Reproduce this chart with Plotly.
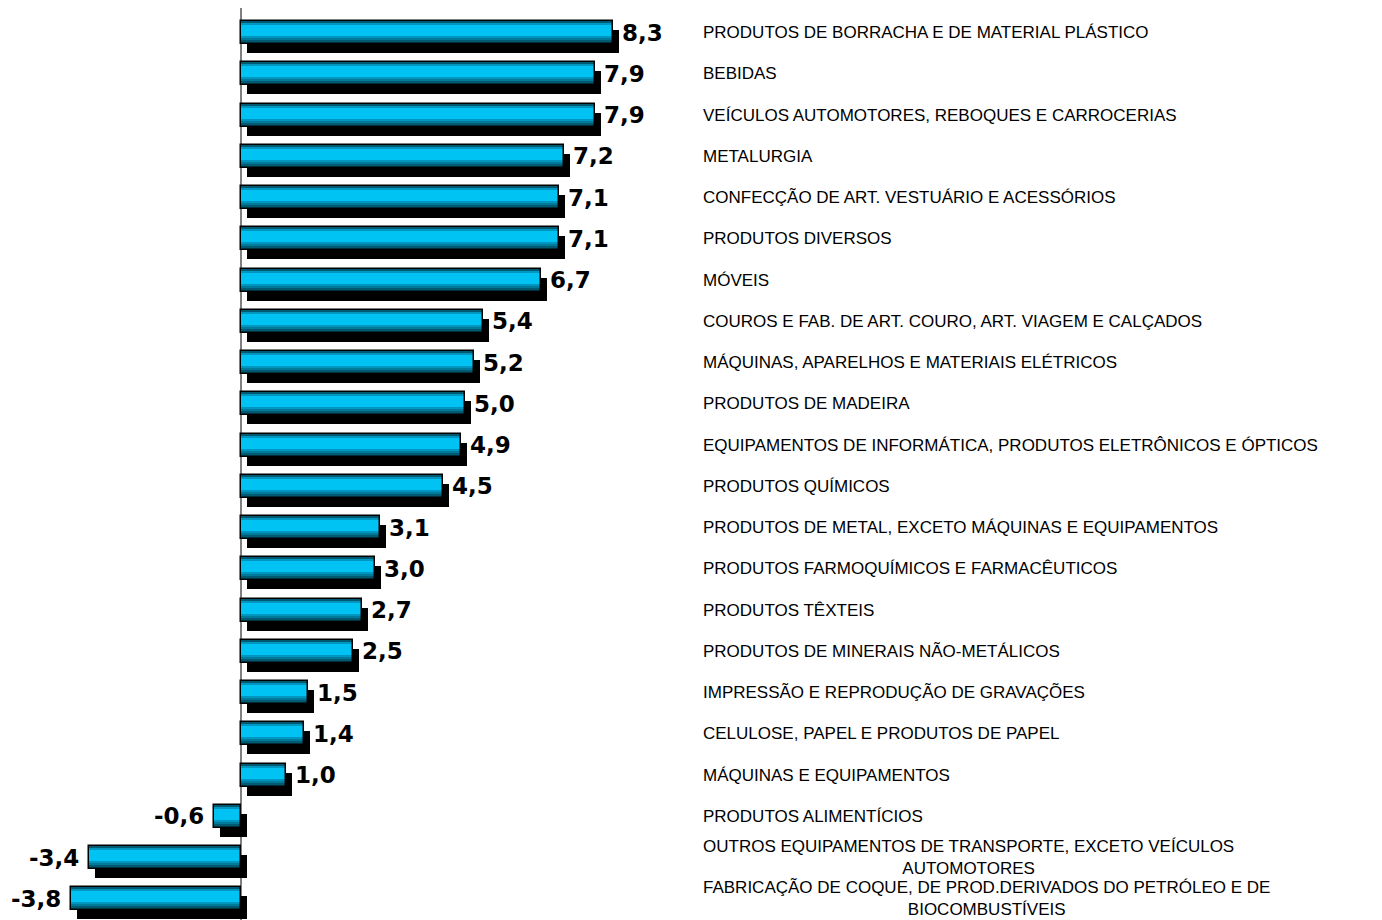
import plotly.graph_objects as go

categories = [
    "PRODUTOS DE BORRACHA E DE MATERIAL PLÁSTICO",
    "BEBIDAS",
    "VEÍCULOS AUTOMOTORES, REBOQUES E CARROCERIAS",
    "METALURGIA",
    "CONFECÇÃO DE ART. VESTUÁRIO E ACESSÓRIOS",
    "PRODUTOS DIVERSOS",
    "MÓVEIS",
    "COUROS E FAB. DE ART. COURO, ART. VIAGEM E CALÇADOS",
    "MÁQUINAS, APARELHOS E MATERIAIS ELÉTRICOS",
    "PRODUTOS DE MADEIRA",
    "EQUIPAMENTOS DE INFORMÁTICA, PRODUTOS ELETRÔNICOS E ÓPTICOS",
    "PRODUTOS QUÍMICOS",
    "PRODUTOS DE METAL, EXCETO MÁQUINAS E EQUIPAMENTOS",
    "PRODUTOS FARMOQUÍMICOS E FARMACÊUTICOS",
    "PRODUTOS TÊXTEIS",
    "PRODUTOS DE MINERAIS NÃO-METÁLICOS",
    "IMPRESSÃO E REPRODUÇÃO DE GRAVAÇÕES",
    "CELULOSE, PAPEL E PRODUTOS DE PAPEL",
    "MÁQUINAS E EQUIPAMENTOS",
    "PRODUTOS ALIMENTÍCIOS",
    "OUTROS EQUIPAMENTOS DE TRANSPORTE, EXCETO VEÍCULOS AUTOMOTORES",
    "FABRICAÇÃO DE COQUE, DE PROD.DERIVADOS DO PETRÓLEO E DE BIOCOMBUSTÍVEIS",
]
display_labels = categories[:20] + [
    "OUTROS EQUIPAMENTOS DE TRANSPORTE, EXCETO VEÍCULOS<br>AUTOMOTORES",
    "FABRICAÇÃO DE COQUE, DE PROD.DERIVADOS DO PETRÓLEO E DE<br>BIOCOMBUSTÍVEIS",
]
values = [8.3, 7.9, 7.9, 7.2, 7.1, 7.1, 6.7, 5.4, 5.2, 5.0, 4.9, 4.5,
          3.1, 3.0, 2.7, 2.5, 1.5, 1.4, 1.0, -0.6, -3.4, -3.8]

PAGE_OFF = 8  # default body margin of the html page
W, H = 1382 - PAGE_OFF, 920 - PAGE_OFF
PX_PER_UNIT = 44.8
X0_PX = 241 - PAGE_OFF
ROW_PX = 41.25
ROW0_PX = 32.5 - PAGE_OFF

x_range = [-X0_PX / PX_PER_UNIT, (W - X0_PX) / PX_PER_UNIT]
y_range = [(H - ROW0_PX) / ROW_PX, -ROW0_PX / ROW_PX]

BAR_H = 23 / ROW_PX
TOP = -BAR_H / 2


def off(p):
    return TOP + p / ROW_PX


fig = go.Figure()

# shadow
shift_x = 6 / PX_PER_UNIT
fig.add_trace(go.Bar(
    y=categories, x=values, base=[shift_x] * len(values), orientation="h",
    offset=off(9), width=BAR_H, marker=dict(color="#000000", line=dict(width=0)),
    hoverinfo="skip", showlegend=False))

# stripes (gradient look)
layers = [
    (0, 23, "#005A72"),
    (2, 19, "#007A9A"),
    (2, 17, "#0096C0"),
    (4, 15, "#00C3F3"),
]
for p0, p1, col in layers:
    fig.add_trace(go.Bar(
        y=categories, x=values, orientation="h",
        offset=off(p0), width=(p1 - p0) / ROW_PX,
        marker=dict(color=col, line=dict(width=0)),
        hoverinfo="skip", showlegend=False))

# border
fig.add_trace(go.Bar(
    y=categories, x=values, orientation="h",
    offset=off(0), width=BAR_H,
    marker=dict(color="rgba(0,0,0,0)", line=dict(color="#000000", width=1.5)),
    hoverinfo="skip", showlegend=False))

annotations = []
for cat, v in zip(categories, values):
    txt = f"{v:.1f}".replace(".", ",")
    annotations.append(dict(
        x=v, y=cat, xref="x", yref="y", text=txt, showarrow=False,
        xanchor="left" if v >= 0 else "right",
        xshift=7 if v >= 0 else -8,
        font=dict(family="DejaVu Sans", size=23, color="#000000", weight="bold"),
    ))

label_x = (701 - PAGE_OFF - X0_PX) / PX_PER_UNIT
for cat, lab in zip(categories, display_labels):
    annotations.append(dict(
        x=label_x, y=cat, xref="x", yref="y", text=lab, showarrow=False,
        xanchor="left", align="center",
        font=dict(family="Liberation Sans, Arial", size=17, color="#000000"),
    ))

fig.update_layout(
    width=W, height=H,
    margin=dict(l=0, r=0, t=0, b=0),
    paper_bgcolor="white", plot_bgcolor="white",
    barmode="overlay", bargap=0,
    showlegend=False,
    annotations=annotations,
    xaxis=dict(range=x_range, showgrid=False, showticklabels=False, ticks="",
               zeroline=True, zerolinecolor="#808080", zerolinewidth=2,
               fixedrange=True),
    yaxis=dict(range=y_range, type="category", categoryorder="array",
               categoryarray=categories, showgrid=False, showticklabels=False,
               ticks="", zeroline=False, fixedrange=True),
)

fig.write_html("out.html")
